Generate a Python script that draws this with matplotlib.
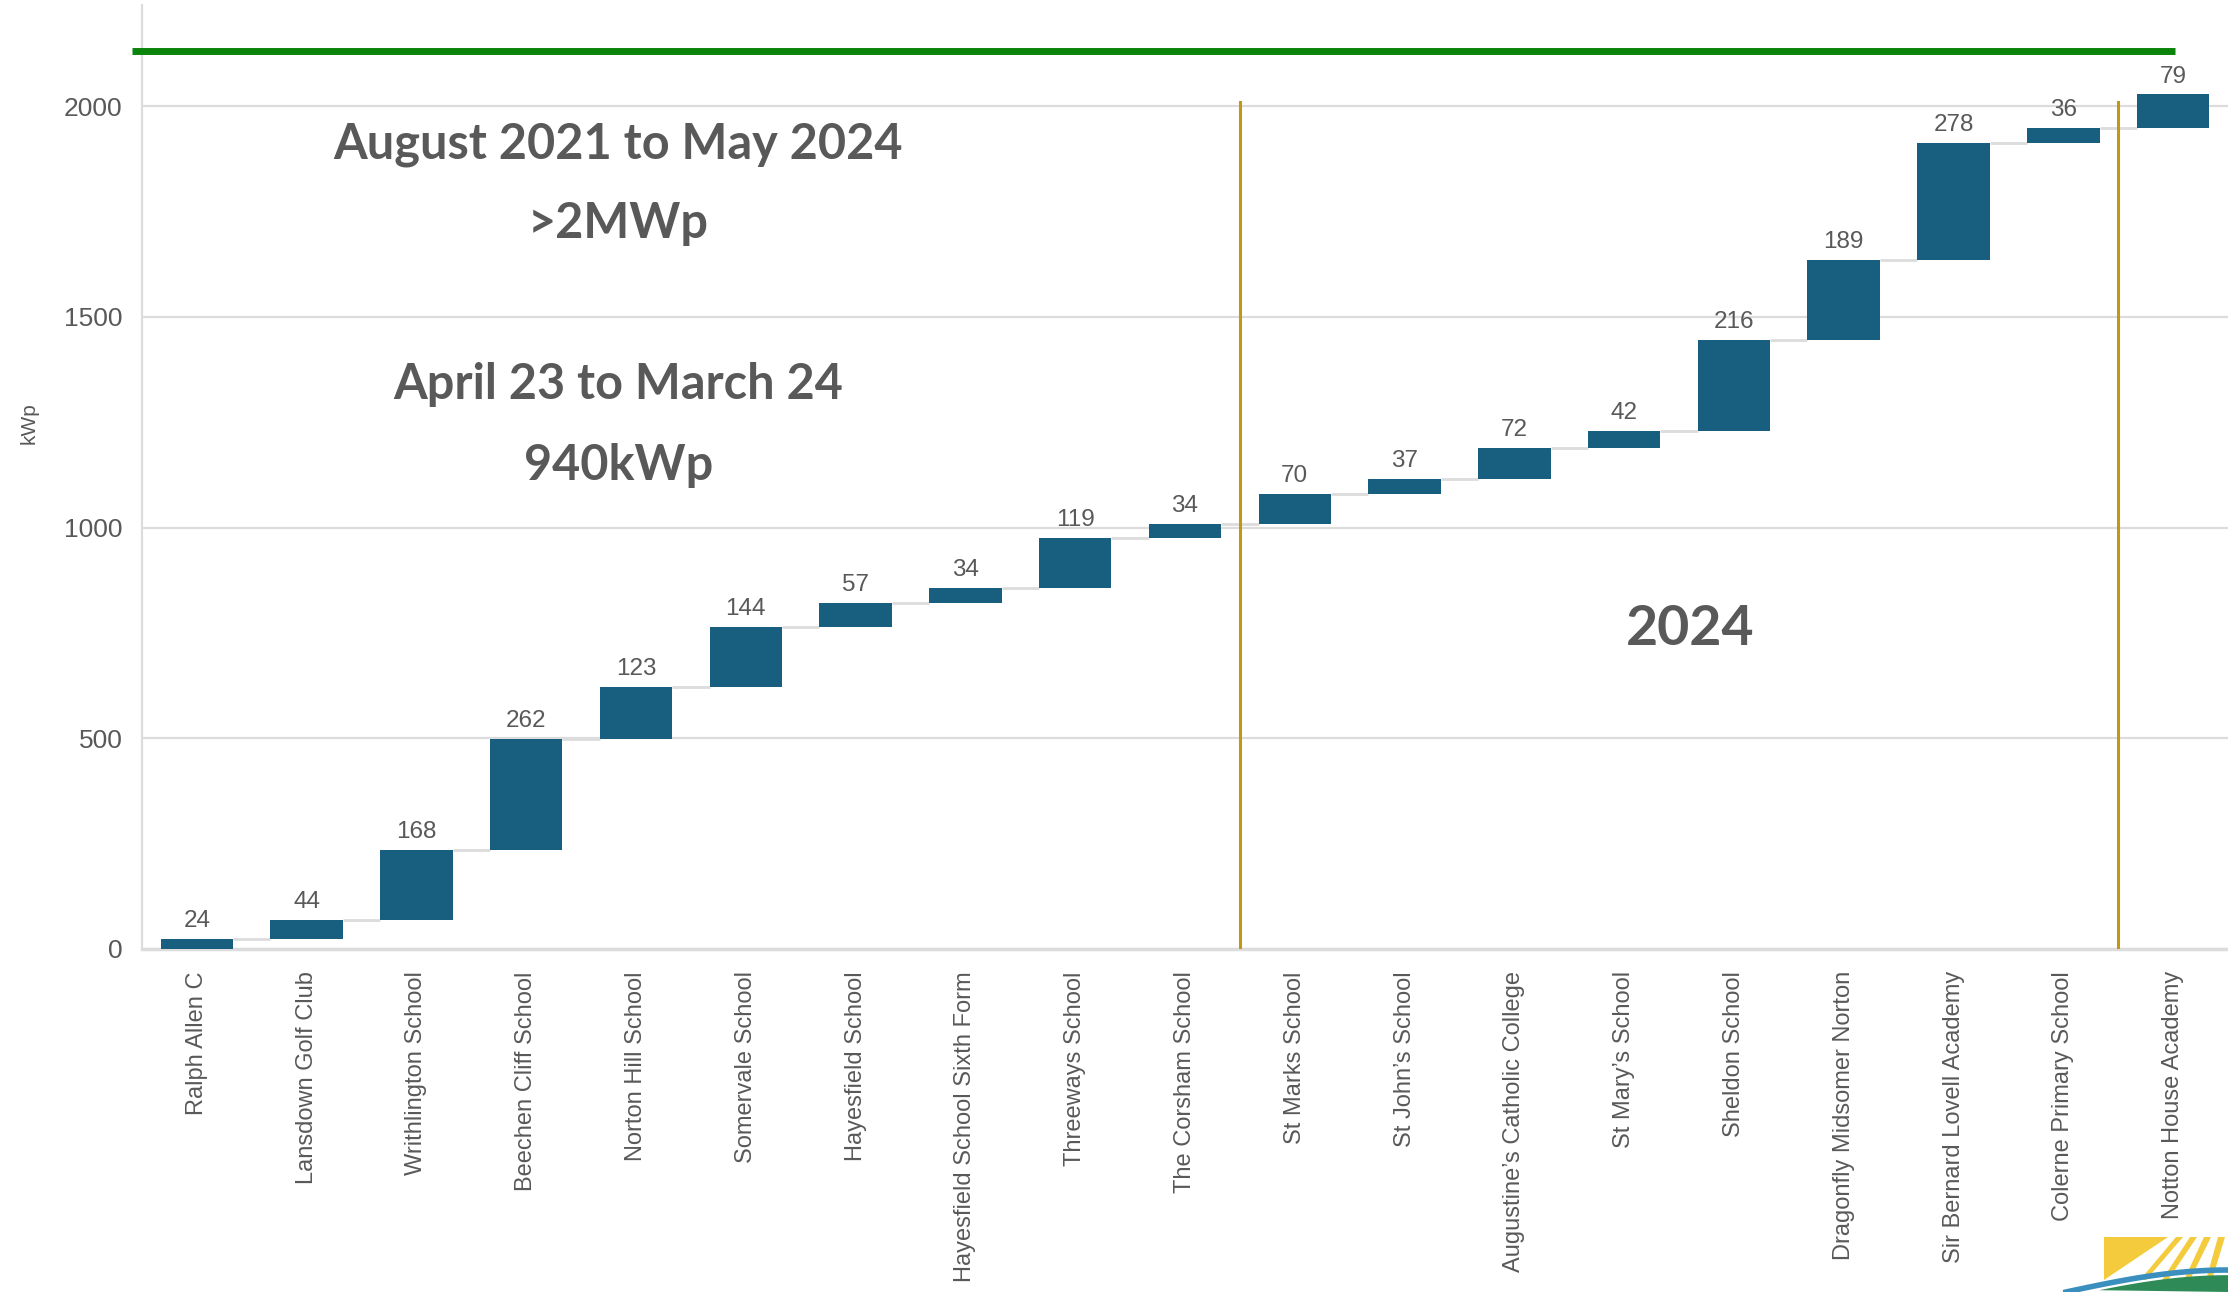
import numpy as np
import matplotlib
matplotlib.use('Agg')
import matplotlib.pyplot as plt
from matplotlib.patches import Polygon

# ---- data ----
schools = ['Ralph Allen C', 'Lansdown Golf Club', 'Writhlington School',
           'Beechen Cliff School', 'Norton Hill School', 'Somervale School',
           'Hayesfield School', 'Hayesfield School Sixth Form',
           'Threeways School', 'The Corsham School', 'St Marks School',
           'St John\u2019s School', 'Augustine\u2019s Catholic College',
           'St Mary\u2019s School', 'Sheldon School', 'Dragonfly Midsomer Norton',
           'Sir Bernard Lovell Academy', 'Colerne Primary School',
           'Notton House Academy']
kwp = [24, 44, 168, 262, 123, 144, 57, 34, 119, 34,
       70, 37, 72, 42, 216, 189, 278, 36, 79]
dividers = [9.5, 17.5]        # period boundaries (between categories)
divider_top = 2010
target_kwp = 2132             # green reference line

BAR = '#185f7f'
GREY = '#595959'
GRID = '#dcdcdc'

tops = np.cumsum(kwp)
bottoms = tops - np.array(kwp)
x = np.arange(len(schools))

fig = plt.figure(figsize=(22.28, 12.92), dpi=100)
ax = fig.add_axes([0.0637, 0.2655, 0.9363, 0.7305])

ax.bar(x, kwp, bottom=bottoms, width=0.66, color=BAR, zorder=3)

# connectors between steps
for i in range(len(x) - 1):
    ax.plot([x[i] + 0.33, x[i + 1] - 0.33], [tops[i], tops[i]],
            color=GRID, lw=2, zorder=2, solid_capstyle='butt')

for xi, t, v in zip(x, tops, kwp):
    ax.annotate(str(v), (xi, t), xytext=(0, 5), textcoords='offset points',
                ha='center', va='bottom', fontsize=17.5, color=GREY,
                family='Liberation Sans')

for d in dividers:
    ax.plot([d, d], [0, divider_top], color='#c09a0e', lw=2.2, zorder=4)

ax.plot([-0.59, 18.02], [target_kwp, target_kwp], color='#0b840b', lw=5,
        clip_on=False, zorder=5, solid_capstyle='butt')

ax.set_xlim(-0.5, 18.5)
ax.set_ylim(0, 2240)
ax.set_yticks([0, 500, 1000, 1500, 2000])
ax.yaxis.grid(True, color=GRID, lw=1.6, zorder=0)
ax.set_axisbelow(True)
ax.set_xticks(x)
ax.set_xticklabels(schools, rotation=90, ha='center', va='top')
ax.tick_params(axis='both', length=0, labelsize=17, colors=GREY)
ax.tick_params(axis='x', pad=16)
ax.tick_params(axis='y', pad=14, labelsize=19)
for lab in ax.get_xticklabels() + ax.get_yticklabels():
    lab.set_family('Liberation Sans')
for s in ['top', 'right']:
    ax.spines[s].set_visible(False)
ax.spines['left'].set_color(GRID)
ax.spines['left'].set_linewidth(1.6)
ax.spines['bottom'].set_color(GRID)
ax.spines['bottom'].set_linewidth(2.5)

ax.set_ylabel('kWp', fontsize=15, color=GREY, family='Liberation Sans')
ax.yaxis.set_label_coords(-0.0497, 0.557)

# period annotations
ann = dict(ha='center', va='center', color=GREY, family='Lato',
           fontweight='bold')
ax.text(3.84, 1909, 'August 2021 to May 2024', fontsize=35, **ann)
ax.text(3.84, 1722, '>2MWp', fontsize=35, **ann)
ax.text(3.84, 1340, 'April 23 to March 24', fontsize=35, **ann)
ax.text(3.84, 1148, '940kWp', fontsize=35, **ann)
ax.text(13.6, 760, '2024', fontsize=40, **ann)

# partial logo, bottom-right corner
fig.patches.append(Polygon([[2104 / 2228, 1 - 1237 / 1292],
                            [2168 / 2228, 1 - 1237 / 1292],
                            [2104 / 2228, 1 - 1280 / 1292]],
                           closed=True, transform=fig.transFigure,
                           facecolor='#f5cb3e', edgecolor='none'))
for k in range(4):
    x0 = 2176 + k * 14
    fig.patches.append(Polygon([[x0 / 2228, 1 - 1237 / 1292],
                                [(x0 + 7) / 2228, 1 - 1237 / 1292],
                                [(x0 - 30 + k * 8) / 2228, 1 - 1280 / 1292],
                                [(x0 - 36 + k * 8) / 2228, 1 - 1280 / 1292]],
                               closed=True, transform=fig.transFigure,
                               facecolor='#f5cb3e', edgecolor='none'))
t = np.linspace(0, 1, 40)
wx = (2066 + 162 * t) / 2228
wy = 1 - (1292 - 22 * np.sin(t * np.pi / 2)) / 1292
fig.lines.append(plt.Line2D(wx, wy, transform=fig.transFigure,
                            color='#3a8fbf', lw=4))
fig.patches.append(Polygon(np.column_stack([np.r_[wx[8:], 1.0],
                                            np.r_[wy[8:] - 0.004, 0.0]]),
                           closed=True, transform=fig.transFigure,
                           facecolor='#2e8b57', edgecolor='none'))

fig.savefig('out.png', dpi=100)
